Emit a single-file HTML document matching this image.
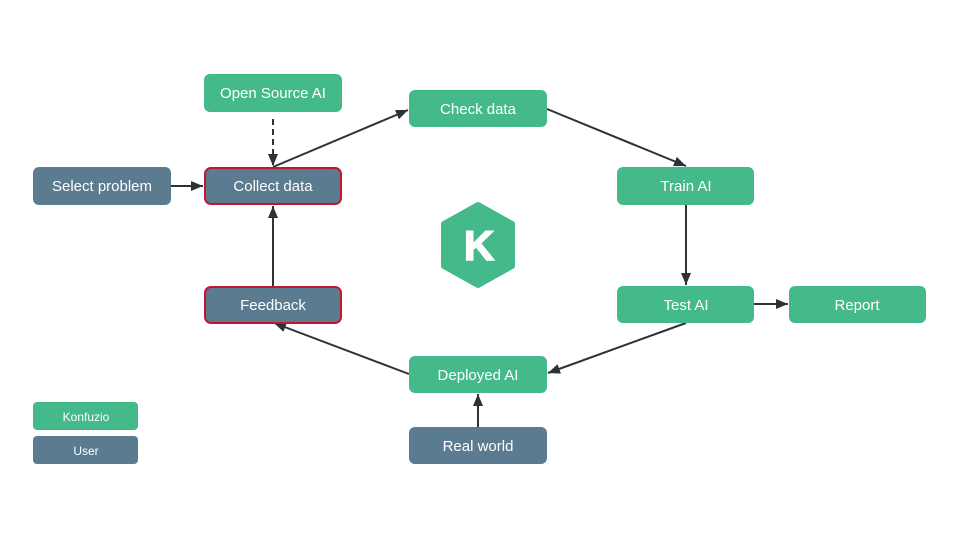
<!DOCTYPE html>
<html><head><style>
body{margin:0;background:#fff;}
svg{display:block;font-family:"Liberation Sans",Arial,sans-serif;}
</style></head><body>
<svg width="960" height="540" viewBox="0 0 960 540">
<defs>
<marker id="a" viewBox="0 0 12 10" refX="12" refY="5" markerWidth="12" markerHeight="10" orient="auto" markerUnits="userSpaceOnUse">
<path d="M0,0 L12,5 L0,10 z" fill="#2b3338"/>
</marker>
</defs>
<g stroke="#2b3338" stroke-width="2" fill="none">
<line x1="273" y1="119" x2="273" y2="166" stroke-dasharray="6,4" marker-end="url(#a)"/>
<line x1="273" y1="167" x2="408" y2="110" marker-end="url(#a)"/>
<line x1="547" y1="109" x2="686" y2="166" marker-end="url(#a)"/>
<line x1="686" y1="205" x2="686" y2="285" marker-end="url(#a)"/>
<line x1="754" y1="304" x2="788" y2="304" marker-end="url(#a)"/>
<line x1="686" y1="323" x2="548" y2="373" marker-end="url(#a)"/>
<line x1="409" y1="374" x2="274" y2="323" marker-end="url(#a)"/>
<line x1="273" y1="286" x2="273" y2="206" marker-end="url(#a)"/>
<line x1="171" y1="186" x2="203" y2="186" marker-end="url(#a)"/>
<line x1="478" y1="427" x2="478" y2="394" marker-end="url(#a)"/>
</g>
<g font-size="15" fill="#fff" text-anchor="middle">
<rect x="204" y="74" width="138" height="38" rx="6" fill="#44b98a"/><text x="273" y="98" fill="#fff">Open Source AI</text>
<rect x="409" y="90" width="138" height="37" rx="6" fill="#44b98a"/><text x="478" y="114" fill="#fff">Check data</text>
<rect x="33" y="167" width="138" height="38" rx="6" fill="#5b7b91"/><text x="102" y="191" fill="#fff">Select problem</text>
<rect x="205" y="168" width="136" height="36" rx="6" fill="#5b7b91" stroke="#c0182a" stroke-width="2"/><text x="273" y="191" fill="#fff">Collect data</text>
<rect x="617" y="167" width="137" height="38" rx="6" fill="#44b98a"/><text x="686" y="191" fill="#fff">Train AI</text>
<rect x="205" y="287" width="136" height="36" rx="6" fill="#5b7b91" stroke="#c0182a" stroke-width="2"/><text x="273" y="310" fill="#fff">Feedback</text>
<rect x="617" y="286" width="137" height="37" rx="6" fill="#44b98a"/><text x="686" y="310" fill="#fff">Test AI</text>
<rect x="789" y="286" width="137" height="37" rx="6" fill="#44b98a"/><text x="857" y="310" fill="#fff">Report</text>
<rect x="409" y="356" width="138" height="37" rx="6" fill="#44b98a"/><text x="478" y="380" fill="#fff">Deployed AI</text>
<rect x="409" y="427" width="138" height="37" rx="6" fill="#5b7b91"/><text x="478" y="451" fill="#fff">Real world</text>
<rect x="33" y="402" width="105" height="28" rx="4" fill="#44b98a"/><text x="86" y="421" font-size="12" fill="#fff">Konfuzio</text>
<rect x="33" y="436" width="105" height="28" rx="4" fill="#5b7b91"/><text x="86" y="455" font-size="12" fill="#fff">User</text>
</g>
<path d="M478,205 L512,224 L512,266 L478,285 L444,266 L444,224 Z" fill="#44b98a" stroke="#44b98a" stroke-width="6" stroke-linejoin="round"/>
<text x="479" y="260" font-size="42" font-weight="bold" fill="#fff" text-anchor="middle" stroke="#fff" stroke-width="1.5">K</text>
</svg>
</body></html>
